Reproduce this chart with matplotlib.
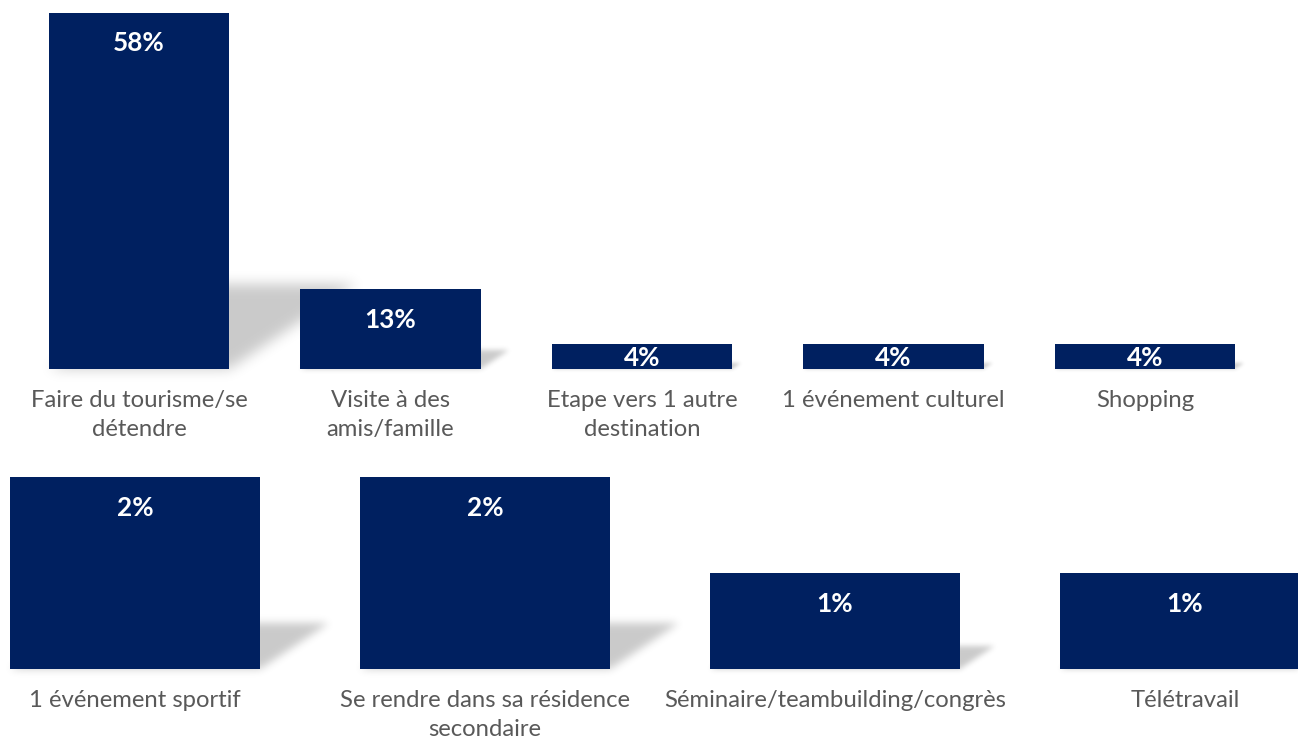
import numpy as np
import matplotlib
matplotlib.use("Agg")
import matplotlib.pyplot as plt

# Motifs de séjour (share of respondents, %)
top_labels = ["Faire du tourisme/se\ndétendre", "Visite à des\namis/famille",
              "Etape vers 1 autre\ndestination", "1 événement culturel", "Shopping"]
top_values = [58, 13, 4, 4, 4]

bottom_labels = ["1 événement sportif", "Se rendre dans sa résidence\nsecondaire",
                 "Séminaire/teambuilding/congrès", "Télétravail"]
bottom_values = [2, 2, 1, 1]

plt.rcParams['font.family'] = ['Lato', 'DejaVu Sans']

W, H = 1298, 738
PT = 72 / 100.0  # points per pixel at dpi 100
BAR = '#002060'
TXT = '#595959'

fig = plt.figure(figsize=(W / 100, H / 100), dpi=100)
fig.patch.set_facecolor('white')

ax_sh = fig.add_axes([0, 0, 1, 1], zorder=0)
ax_top = fig.add_axes([13.25 / W, 369 / H, 1257.5 / W, 368.3 / H], zorder=1)
ax_bot = fig.add_axes([-40 / W, 69 / H, 1400 / W, 211.2 / H], zorder=1)

for ax in (ax_sh, ax_top, ax_bot):
    ax.set_axis_off()
    ax.patch.set_alpha(0)

ax_top.set_xlim(-0.5, len(top_values) - 0.5)
ax_top.set_ylim(0, 60)
ax_bot.set_xlim(-0.5, len(bottom_values) - 0.5)
ax_bot.set_ylim(0, 2.2)

bars_top = ax_top.bar(range(len(top_values)), top_values, width=0.716,
                      color=BAR, linewidth=0)
bars_bot = ax_bot.bar(range(len(bottom_values)), bottom_values, width=0.714,
                      color=BAR, linewidth=0)


def gauss_blur(a, s):
    r = int(3 * s) + 1
    k = np.exp(-0.5 * (np.arange(-r, r + 1) / s) ** 2)
    k /= k.sum()
    a = np.apply_along_axis(lambda m: np.convolve(m, k, mode='same'), 0, a)
    a = np.apply_along_axis(lambda m: np.convolve(m, k, mode='same'), 1, a)
    return a


# Perspective drop shadows cast up and to the right of each bar
alpha = np.zeros((H, W))
for ax, bars in ((ax_top, bars_top), (ax_bot, bars_bot)):
    for b in bars:
        (x0, yb), (x1, yt) = ax.transData.transform(
            [(b.get_x(), 0), (b.get_x() + b.get_width(), b.get_height())])
        h = yt - yb
        dx, rise = 0.36 * h, 0.24 * h
        s = 0.014 * h + 1.5
        pad = int(4 * s) + 2
        cx0 = max(int(x0) - pad, 0)
        cx1 = min(int(x1 + dx) + pad, W)
        cy0 = max(int(yb) - pad, 0)
        cy1 = min(int(yb + rise) + pad, H)
        if cx1 <= cx0 or cy1 <= cy0:
            continue
        xs = np.arange(cx0, cx1) + 0.5
        ys = np.arange(cy0, cy1) + 0.5
        X, Y = np.meshgrid(xs, ys)
        v = (Y - yb) / rise
        shift = v * dx
        m = ((v >= 0) & (v <= 1) & (X >= x0 + shift) & (X <= x1 + shift)).astype(float)
        m = gauss_blur(m, s)
        # convert y-up figure rows to image rows
        rows = H - 1 - np.arange(cy0, cy1)
        sub = alpha[rows[:, None], np.arange(cx0, cx1)[None, :]]
        alpha[rows[:, None], np.arange(cx0, cx1)[None, :]] = np.maximum(sub, m * 0.21)

rgba = np.zeros((H, W, 4))
rgba[..., 3] = alpha
ax_sh.imshow(rgba, extent=(0, W, 0, H), origin='upper', interpolation='nearest',
             aspect='auto')
ax_sh.set_xlim(0, W)
ax_sh.set_ylim(0, H)


def annotate_row(ax, bars, labels, values):
    for b, lab, v in zip(bars, labels, values):
        cx = b.get_x() + b.get_width() / 2
        for i, line in enumerate(lab.split('\n')):
            ax.annotate(line, (cx, 0), xytext=(0, -(38 + 29 * i) * PT),
                        textcoords='offset points', ha='center', va='baseline',
                        fontsize=17.2, color=TXT)
        (_, yb), (_, yt) = ax.transData.transform([(cx, 0), (cx, v)])
        h = yt - yb
        off = min(29.5, h / 2) + 9
        ax.annotate(f"{v}%", (cx, v), xytext=(0, -off * PT),
                    textcoords='offset points', ha='center', va='baseline',
                    fontsize=18.8, fontweight='bold', color='white')


annotate_row(ax_top, bars_top, top_labels, top_values)
annotate_row(ax_bot, bars_bot, bottom_labels, bottom_values)

fig.savefig('out.png', dpi=100, facecolor='white')
